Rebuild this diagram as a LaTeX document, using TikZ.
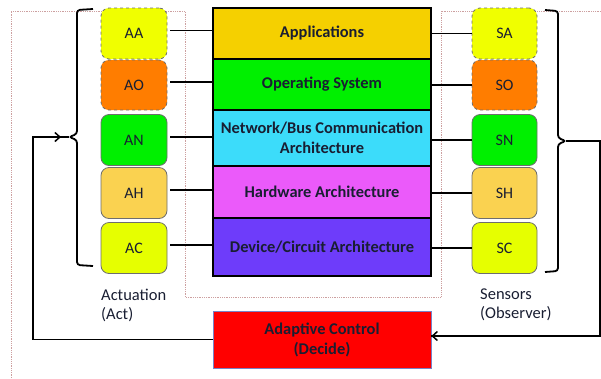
\documentclass[tikz,border=0pt]{standalone}
\usepackage{fontspec}
\setmainfont{Carlito}
\usetikzlibrary{arrows.meta}
\definecolor{cApp}{RGB}{245,208,0}
\definecolor{cOS}{RGB}{0,240,0}
\definecolor{cNet}{RGB}{60,220,250}
\definecolor{cHW}{RGB}{235,90,250}
\definecolor{cDev}{RGB}{110,60,250}
\definecolor{cA}{RGB}{240,255,0}
\definecolor{cO}{RGB}{255,125,0}
\definecolor{cN}{RGB}{0,240,0}
\definecolor{cH}{RGB}{250,210,80}
\definecolor{cC}{RGB}{230,255,0}
\definecolor{cRed}{RGB}{255,0,0}
\definecolor{cTxt}{RGB}{25,30,50}
\definecolor{cDot}{RGB}{205,160,160}
\definecolor{cBorder}{RGB}{110,110,110}
\begin{document}
\begin{tikzpicture}[x=1pt,y=-1pt,
  smallbox/.style={draw=cBorder,line width=0.8pt,rounded corners=8pt,minimum width=66pt,minimum height=51pt,inner sep=0pt,font=\fontsize{16}{19}\selectfont,text=cTxt},
  dashbox/.style={smallbox,dashed},
  layer/.style={draw=black,line width=2.2pt,minimum width=218pt,inner sep=0pt,align=center,font=\fontsize{16.4}{20}\selectfont\bfseries,text=cTxt},
  conn/.style={draw=black,line width=1.5pt},
  brk/.style={draw=black,line width=1.8pt,rounded corners=3pt},
  lbl/.style={inner sep=0pt,anchor=north west,align=left,font=\fontsize{16.5}{19}\selectfont,text=cTxt},
  arr/.style={-{Straight Barb[length=5pt,width=9pt,line width=1.5pt]}}
]
\useasboundingbox (0,0) rectangle (601,378);
% dotted outline
\draw[cDot,densely dotted,line width=0.8pt] (11,378) -- (11,11) -- (185,11) -- (185,297) -- (441,297) -- (441,11) -- (601,11);
% stack
\node[layer,fill=cApp,minimum height=51pt] (apps) at (322,33.5) {Applications};
\node[layer,fill=cOS,minimum height=51pt] (os) at (322,84.5) {Operating System};
\node[layer,fill=cNet,minimum height=56pt] (net) at (322,138) {Network/Bus Communication\\Architecture};
\node[layer,fill=cHW,minimum height=52pt] (hw) at (322,192) {Hardware Architecture};
\node[layer,fill=cDev,minimum height=58pt] (dev) at (322,247) {Device/Circuit Architecture};
% actuation boxes
\node[dashbox,fill=cA] (AA) at (134,33.5) {AA};
\node[dashbox,fill=cO,minimum height=50pt] (AO) at (134,85) {AO};
\node[smallbox,fill=cN] (AN) at (134,140) {AN};
\node[smallbox,fill=cH] (AH) at (134,193) {AH};
\node[smallbox,fill=cC] (AC) at (134,248) {AC};
% sensor boxes
\node[dashbox,fill=cA,minimum width=65pt] (SA) at (504.5,33.5) {SA};
\node[dashbox,fill=cO,minimum width=65pt,minimum height=50pt] (SO) at (504.5,85) {SO};
\node[smallbox,fill=cN,minimum width=65pt] (SN) at (504.5,140) {SN};
\node[smallbox,fill=cH,minimum width=65pt] (SH) at (504.5,193) {SH};
\node[smallbox,fill=cC,minimum width=65pt] (SC) at (504.5,248) {SC};
% control
\node[draw={rgb,255:red,120;green,130;blue,200},line width=0.6pt,fill=cRed,minimum width=218pt,minimum height=57pt,inner sep=0pt,align=center,font=\fontsize{16.4}{20}\selectfont\bfseries,text=cTxt] (ctrl) at (322,339.5) {Adaptive Control\\(Decide)};
% labels
\node[lbl] (act) at (101,289) {Actuation\\(Act)};
\node[lbl] (sens) at (480,289) {Sensors\\(Observer)};
% left connectors
\foreach \a/\b in {AA/apps,AO/os,AN/net,AH/hw,AC/dev}{
  \draw[conn] ([xshift=3pt,yshift=3pt]\a.east) -- ([yshift=3pt]\a.east -| \b.west);
}
\foreach \a/\b in {SA/apps,SO/os,SN/net,SH/hw,SC/dev}{
  \draw[conn] (\a.west) -- (\a.west -| \b.east);
}
% brackets
\coordinate (ltip) at (69,137);
\coordinate (rtip) at (566,141);
\draw[brk] (93,9) -- (77,10) -- (77,134) -- (ltip) -- (77,140) -- (77,265) -- (93,266);
\draw[brk] (545,10) -- (558,11) -- (558,138) -- (rtip) -- (558,144) -- (558,271) -- (545,272);
% feedback paths
\coordinate (lc) at (33,137);
\coordinate (la) at (61,137);
\coordinate (rc) at (600,141);
\draw[conn] (ctrl.west) -| (lc) -- (ltip);
\draw[conn,arr] (lc) -- (la);
\draw[conn] (rtip) -- (rc) |- ([yshift=3.5pt]ctrl.east);
\draw[conn,arr] ([xshift=20pt,yshift=3.5pt]ctrl.east) -- ([yshift=3.5pt]ctrl.east);
\end{tikzpicture}
\end{document}
